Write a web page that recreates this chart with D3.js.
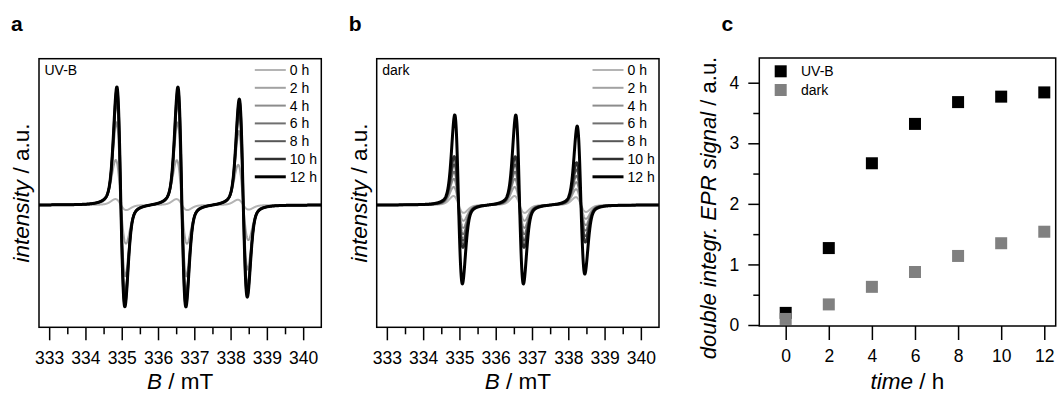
<!DOCTYPE html>
<html>
<head>
<meta charset="utf-8">
<title>EPR spectra UV-B / dark</title>
<script src="https://cdn.jsdelivr.net/npm/d3@7"></script>
<style>
  body { margin: 0; background: #fff; }
  svg text { font-family: "Liberation Sans", Arial, Helvetica, sans-serif; fill: #000; }
</style>
</head>
<body>
<svg id="chart" width="1057" height="394"></svg>
<script>
// irradiation times
var times = [0, 2, 4, 6, 8, 10, 12];
var timeLabels = ["0 h", "2 h", "4 h", "6 h", "8 h", "10 h", "12 h"];
var lineColors = ["#b4b4b4", "#a2a2a2", "#8c8c8c", "#707070", "#575757", "#303030", "#000000"];
var lineWidths = [2, 2, 2, 2, 2, 2.5, 3];

// the three hyperfine lines (mT)
var lineCenters = [334.976, 336.658, 338.35];

// panel a, UV-B : 12 h lobe heights per line, relative size and peak-to-peak width per time
var uvbUp = [1.18, 1.18, 1.06];
var uvbDown = [1.02, 1.02, 0.92];
var uvbScale = [0.05, 0.38, 0.70, 0.86, 0.94, 0.98, 1.00];
var uvbWidth = [0.30, 0.28, 0.24, 0.23, 0.225, 0.22, 0.22];

// panel b, dark
var darkUp = [0.90, 0.90, 0.79];
var darkDown = [0.79, 0.79, 0.69];
var darkScale = [0.10, 0.20, 0.29, 0.37, 0.45, 0.54, 1.00];
var darkWidth = [0.28, 0.27, 0.26, 0.25, 0.245, 0.24, 0.21];

// panel c, double integrated EPR signal
var uvbSignal = [0.20, 1.27, 2.67, 3.32, 3.68, 3.77, 3.84];
var darkSignal = [0.10, 0.34, 0.63, 0.875, 1.14, 1.35, 1.54];

var bTicks = [333, 334, 335, 336, 337, 338, 339, 340];
var bMinorTicks = [333.5, 334.5, 335.5, 336.5, 337.5, 338.5, 339.5];
var timeTicks = [0, 2, 4, 6, 8, 10, 12];
var signalTicks = [0, 1, 2, 3, 4];
var signalMinorTicks = [0.5, 1.5, 2.5, 3.5];

var svg = d3.select("#chart");

// derivative line shape, extremes +-1 at x = -+1 (70% gauss, 30% lorentz)
function lobe(x) {
  var g = -x * Math.exp((1 - x * x) / 2);
  var l = -x / Math.pow(1 + x * x / 3, 2) / 0.5625;
  return 0.7 * g + 0.3 * l;
}

function spectrum(B, up, down, scale, width) {
  var s = 0;
  for (var k = 0; k < lineCenters.length; k++) {
    var v = lobe((B - lineCenters[k]) / (width / 2));
    s += v > 0 ? up[k] * v : down[k] * v;
  }
  return s * scale;
}

var fieldPoints = d3.range(332.72, 340.5, 0.004);

function spectraPanel(x0, x1, label, tag, up, down, scale, width) {
  var top = 58.7, bottom = 327.3;
  var x = d3.scaleLinear().domain([332.72, 340.5]).range([x0, x1]);
  var y = d3.scaleLinear().domain([-1.223, 1.463]).range([bottom, top]);
  var g = svg.append("g");

  g.append("defs").append("clipPath").attr("id", "clip" + label)
    .append("rect").attr("x", x0).attr("y", top).attr("width", x1 - x0).attr("height", bottom - top);

  var line = d3.line().x(function (d) { return x(d[0]); }).y(function (d) { return y(d[1]); });
  var curves = g.append("g").attr("clip-path", "url(#clip" + label + ")");
  times.forEach(function (t, i) {
    var pts = fieldPoints.map(function (B) { return [B, spectrum(B, up, down, scale[i], width[i])]; });
    curves.append("path").attr("d", line(pts))
      .attr("fill", "none").attr("stroke", lineColors[i])
      .attr("stroke-width", lineWidths[i]).attr("stroke-linejoin", "round");
  });

  g.append("rect").attr("x", x0).attr("y", top).attr("width", x1 - x0).attr("height", bottom - top)
    .attr("fill", "none").attr("stroke", "#000").attr("stroke-width", 1.5);

  var ax = g.append("g").attr("transform", "translate(0," + bottom + ")")
    .call(d3.axisBottom(x).tickValues(bTicks).tickFormat(d3.format("d")).tickSize(13).tickPadding(11));
  ax.select(".domain").remove();
  ax.selectAll("line").attr("stroke-width", 1.5);
  ax.selectAll("text").attr("font-size", 17.5).attr("font-family", null);
  var axm = g.append("g").attr("transform", "translate(0," + bottom + ")")
    .call(d3.axisBottom(x).tickValues(bMinorTicks).tickFormat("").tickSize(7));
  axm.select(".domain").remove();
  axm.selectAll("line").attr("stroke-width", 1.5);

  // legend
  times.forEach(function (t, i) {
    var ly = 70 + i * 17.8;
    g.append("line").attr("x1", x1 - 66.5).attr("x2", x1 - 35.5).attr("y1", ly).attr("y2", ly)
      .attr("stroke", lineColors[i]).attr("stroke-width", lineWidths[i]);
    g.append("text").attr("x", x1 - 31.5).attr("y", ly).attr("dy", "0.36em")
      .attr("font-size", 14).text(timeLabels[i]);
  });
  g.append("text").attr("x", x0 + 5.5).attr("y", 70).attr("dy", "0.36em").attr("font-size", 14).text(tag);

  g.append("text").attr("x", x0 - 28).attr("y", 31).attr("font-size", 21).attr("font-weight", "bold").text(label);

  var xt = g.append("text").attr("x", (x0 + x1) / 2).attr("y", 389).attr("text-anchor", "middle").attr("font-size", 22.5);
  xt.append("tspan").attr("font-style", "italic").text("B");
  xt.append("tspan").text(" / mT");

  var yt = g.append("text").attr("transform", "translate(" + (x0 - 10) + "," + ((top + bottom) / 2) + ") rotate(-90)")
    .attr("text-anchor", "middle").attr("font-size", 22.5);
  yt.append("tspan").attr("font-style", "italic").text("intensity");
  yt.append("tspan").text(" / a.u.");
}

spectraPanel(39, 321.3, "a", "UV-B", uvbUp, uvbDown, uvbScale, uvbWidth);
spectraPanel(376.7, 659, "b", "dark", darkUp, darkDown, darkScale, darkWidth);

// panel c
var cx0 = 759.3, cx1 = 1055.7, cy0 = 58, cy1 = 326;
var tx = d3.scaleLinear().domain([-1.225, 12.53]).range([cx0, cx1]);
var sy = d3.scaleLinear().domain([-0.0165, 4.408]).range([cy1, cy0]);
var gc = svg.append("g");

gc.append("rect").attr("x", cx0).attr("y", cy0).attr("width", cx1 - cx0).attr("height", cy1 - cy0)
  .attr("fill", "none").attr("stroke", "#000").attr("stroke-width", 1.5);

var cax = gc.append("g").attr("transform", "translate(0," + cy1 + ")")
  .call(d3.axisBottom(tx).tickValues(timeTicks).tickFormat(d3.format("d")).tickSize(14).tickPadding(10));
cax.select(".domain").remove();
cax.selectAll("line").attr("stroke-width", 1.5);
cax.selectAll("text").attr("font-size", 17.5).attr("font-family", null);

var cay = gc.append("g").attr("transform", "translate(" + cx0 + ",0)")
  .call(d3.axisLeft(sy).tickValues(signalTicks).tickFormat(d3.format("d")).tickSize(11).tickPadding(9));
cay.select(".domain").remove();
cay.selectAll("line").attr("stroke-width", 1.5);
cay.selectAll("text").attr("font-size", 17.5).attr("font-family", null);
var caym = gc.append("g").attr("transform", "translate(" + cx0 + ",0)")
  .call(d3.axisLeft(sy).tickValues(signalMinorTicks).tickFormat("").tickSize(6));
caym.select(".domain").remove();
caym.selectAll("line").attr("stroke-width", 1.5);

var sq = 12;
gc.selectAll("rect.uvb").data(uvbSignal).enter().append("rect").attr("class", "uvb")
  .attr("x", function (d, i) { return tx(times[i]) - sq / 2; })
  .attr("y", function (d) { return sy(d) - sq / 2; })
  .attr("width", sq).attr("height", sq).attr("fill", "#000");
gc.selectAll("rect.dark").data(darkSignal).enter().append("rect").attr("class", "dark")
  .attr("x", function (d, i) { return tx(times[i]) - sq / 2; })
  .attr("y", function (d) { return sy(d) - sq / 2; })
  .attr("width", sq).attr("height", sq).attr("fill", "#808080");

// legend c
gc.append("rect").attr("x", 774.7).attr("y", 65.3).attr("width", sq).attr("height", sq).attr("fill", "#000");
gc.append("text").attr("x", 801).attr("y", 71.3).attr("dy", "0.36em").attr("font-size", 14).text("UV-B");
gc.append("rect").attr("x", 774.7).attr("y", 84).attr("width", sq).attr("height", sq).attr("fill", "#808080");
gc.append("text").attr("x", 801).attr("y", 90).attr("dy", "0.36em").attr("font-size", 14).text("dark");

gc.append("text").attr("x", 721.5).attr("y", 31).attr("font-size", 21).attr("font-weight", "bold").text("c");

var ct = gc.append("text").attr("x", (cx0 + cx1) / 2).attr("y", 389).attr("text-anchor", "middle").attr("font-size", 22.5);
ct.append("tspan").attr("font-style", "italic").text("time");
ct.append("tspan").text(" / h");

var cyt = gc.append("text").attr("transform", "translate(716,208) rotate(-90)")
  .attr("text-anchor", "middle").attr("font-size", 22);
cyt.append("tspan").attr("font-style", "italic").text("double integr. EPR signal");
cyt.append("tspan").text(" / a.u.");
</script>
</body>
</html>
